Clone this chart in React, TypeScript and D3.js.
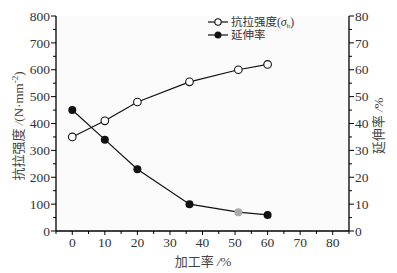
import React from "react";
import * as d3 from "d3";

const workRate = [0, 10, 20, 36, 51, 60];
const strength = [350, 410, 480, 555, 600, 620];
const elongation = [45, 34, 23, 10, 7, 6];
const xTicks = [0, 10, 20, 30, 40, 50, 60, 70, 80];
const yLeftTicks = [0, 100, 200, 300, 400, 500, 600, 700, 800];
const yRightTicks = [0, 10, 20, 30, 40, 50, 60, 70, 80];

const W = 397, H = 273;
const L = 56, R = 349, T = 16, B = 231;
const serif = "'Liberation Serif', 'Times New Roman', serif";
const cjk = "'Liberation Serif', 'Noto Sans CJK SC', serif";

export default function App() {
  const x = d3.scaleLinear().domain([-5, 85]).range([L, R]);
  const yl = d3.scaleLinear().domain([0, 800]).range([B, T]);
  const yr = d3.scaleLinear().domain([0, 80]).range([B, T]);
  const sPts = workRate.map((w, i) => [x(w), yl(strength[i])] as [number, number]);
  const ePts = workRate.map((w, i) => [x(w), yr(elongation[i])] as [number, number]);
  const line = d3.line();
  const xMinor = d3.range(-5, 86, 5);
  const ylMinor = d3.range(0, 801, 50);
  const yrMinor = d3.range(0, 81, 5);
  return (
    <svg width={W} height={H} style={{ position: "absolute", left: 0, top: 0 }}>
      <rect x={0} y={0} width={W} height={H} fill="#fff" />
      <rect x={L} y={T} width={R - L} height={B - T} fill="#fbfbfb" />
      <line x1={L} x2={L} y1={T} y2={B} stroke="#000" strokeWidth={1.3} />
      <line x1={R} x2={R} y1={T} y2={B} stroke="#000" strokeWidth={1.3} />
      <line x1={L} x2={R} y1={B} y2={B} stroke="#000" strokeWidth={1.3} />
      {ylMinor.map((v) => (
        <line key={"ylm" + v} x1={L - (v % 100 === 0 ? 5 : 3)} x2={L} y1={yl(v)} y2={yl(v)} stroke="#000" strokeWidth={1} />
      ))}
      {yrMinor.map((v) => (
        <line key={"yrm" + v} x1={R} x2={R + (v % 10 === 0 ? 5 : 3)} y1={yr(v)} y2={yr(v)} stroke="#000" strokeWidth={1} />
      ))}
      {xMinor.map((v) => (
        <line key={"xm" + v} x1={x(v)} x2={x(v)} y1={B} y2={B + (v % 10 === 0 ? 4 : 3)} stroke="#000" strokeWidth={1} />
      ))}
      {yLeftTicks.map((v) => (
        <text key={"yl" + v} x={L - 6} y={yl(v)} dy="0.35em" textAnchor="end" fontFamily={serif} fontSize={13.5} fill="#333">{v}</text>
      ))}
      {yRightTicks.map((v) => (
        <text key={"yr" + v} x={R + 6} y={yr(v)} dy="0.35em" textAnchor="start" fontFamily={serif} fontSize={13.5} fill="#333">{v}</text>
      ))}
      {xTicks.map((v) => (
        <text key={"x" + v} x={x(v)} y={B + 16} textAnchor="middle" fontFamily={serif} fontSize={13.5} fill="#333">{v}</text>
      ))}
      <text x={203} y={266} textAnchor="middle" fontFamily={cjk} fontSize={13} fill="#444">
        加工率 <tspan fontStyle="italic">/</tspan>%
      </text>
      <text transform={`translate(23,${126}) rotate(-90)`} textAnchor="middle" fontFamily={cjk} fontSize={13} fill="#444">
        抗拉强度 <tspan fontStyle="italic">/</tspan>(N·mm<tspan dy={-5} fontSize={9}>-2</tspan><tspan dy={5}>)</tspan>
      </text>
      <text transform={`translate(383,${126}) rotate(-90)`} textAnchor="middle" fontFamily={cjk} fontSize={13} fill="#444">
        延伸率 <tspan fontStyle="italic">/</tspan>%
      </text>
      <path d={line(sPts) || ""} fill="none" stroke="#111" strokeWidth={1.2} />
      <path d={line(ePts) || ""} fill="none" stroke="#111" strokeWidth={1.2} />
      {sPts.map((p, i) => (
        <circle key={"s" + i} cx={p[0]} cy={p[1]} r={3.8} fill="#fff" stroke="#111" strokeWidth={1.1} />
      ))}
      {ePts.map((p, i) => (
        <circle key={"e" + i} cx={p[0]} cy={p[1]} r={4} fill={i === 4 ? "#aaa" : "#111"} />
      ))}
      <line x1={208} x2={228} y1={22} y2={22} stroke="#111" strokeWidth={1.2} />
      <circle cx={218} cy={22} r={3.2} fill="#fff" stroke="#111" strokeWidth={1.1} />
      <text x={231} y={22} dy="0.35em" fontFamily={cjk} fontSize={11.5} fill="#333">
        抗拉强度(<tspan fontStyle="italic" fontSize={12}>σ</tspan><tspan fontSize={7} dy={2}>b</tspan><tspan dy={-2}>)</tspan>
      </text>
      <line x1={208} x2={228} y1={35} y2={35} stroke="#111" strokeWidth={1.2} />
      <circle cx={218} cy={35} r={3.5} fill="#111" />
      <text x={231} y={35} dy="0.35em" fontFamily={cjk} fontSize={11.5} fill="#333">延伸率</text>
    </svg>
  );
}
